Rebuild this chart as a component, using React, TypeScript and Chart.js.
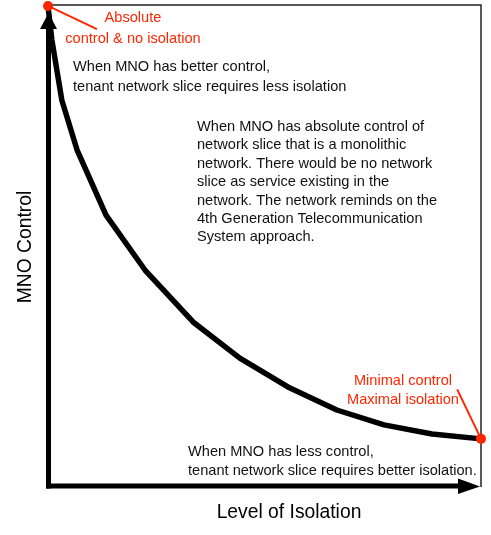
import React, { useEffect, useRef } from "react";
import { Chart, registerables } from "chart.js";
Chart.register(...registerables);

// Curve: MNO control (y) vs level of isolation (x), arbitrary 0-100 units
const isolationX = [0, 0.9, 3.2, 6.7, 13.4, 22.4, 33.5, 44.3, 55.4, 66.7, 77.6, 88.7, 100];
const controlY = [99.8, 92.7, 80.2, 69.9, 56.3, 44.9, 34.1, 26.6, 20.6, 15.8, 12.7, 10.8, 9.8];

// Highlighted extreme points
const extremeX = [0, 100];
const extremeY = [99.8, 9.8];

// Leader lines for the red labels (from point to label)
const leader1X = [0, 11.3];
const leader1Y = [99.8, 95.0];
const leader2X = [100, 94.5];
const leader2Y = [9.8, 20.1];

const xTitle = "Level of Isolation";
const yTitle = "MNO Control";
const redLabel1 = ["Absolute", "control & no isolation"];
const redLabel2 = ["Minimal control", "Maximal isolation"];
const noteTop = ["When MNO has better control,", "tenant network slice requires less isolation"];
const noteMid = [
  "When MNO has absolute control of",
  "network slice that is a monolithic",
  "network. There would be no network",
  "slice as service existing in the",
  "network. The network reminds on the",
  "4th Generation Telecommunication",
  "System approach.",
];
const noteBottom = ["When MNO has less control,", "tenant network slice requires better isolation."];

const RED = "rgb(255,38,0)";
const FONT = '"Liberation Sans", Arial, Helvetica, sans-serif';

const decor = {
  id: "decor",
  beforeDatasetsDraw(chart: any) {
    const { ctx, chartArea } = chart;
    const { left, right, top, bottom } = chartArea;
    ctx.save();
    // thin frame (top & right)
    ctx.strokeStyle = "#222";
    ctx.lineWidth = 1.5;
    ctx.beginPath();
    ctx.moveTo(left, top);
    ctx.lineTo(right, top);
    ctx.lineTo(right, bottom + 1);
    ctx.stroke();
    // thick axes
    ctx.strokeStyle = "#000";
    ctx.fillStyle = "#000";
    ctx.lineWidth = 5;
    ctx.lineCap = "butt";
    const ax = left + 0.5;
    const ay = bottom;
    ctx.beginPath();
    ctx.moveTo(ax, ay + 2.5);
    ctx.lineTo(ax, top + 24);
    ctx.stroke();
    ctx.beginPath();
    ctx.moveTo(ax - 2.5, ay);
    ctx.lineTo(right - 20, ay);
    ctx.stroke();
    // arrow heads
    ctx.beginPath();
    ctx.moveTo(ax, top + 8);
    ctx.lineTo(ax + 8.5, top + 24);
    ctx.lineTo(ax - 8.5, top + 24);
    ctx.closePath();
    ctx.fill();
    ctx.beginPath();
    ctx.moveTo(right - 1, ay + 0.5);
    ctx.lineTo(right - 23, ay - 7.5);
    ctx.lineTo(right - 23, ay + 8);
    ctx.closePath();
    ctx.fill();
    ctx.restore();
  },
  afterDraw(chart: any) {
    const { ctx, chartArea } = chart;
    const { bottom } = chartArea;
    ctx.save();
    ctx.textBaseline = "middle";
    // red labels
    ctx.fillStyle = RED;
    ctx.font = "14.6px " + FONT;
    ctx.textAlign = "center";
    ctx.fillText(redLabel1[0], 133, 18);
    ctx.fillText(redLabel1[1], 133, 39);
    ctx.fillText(redLabel2[0], 403, 381);
    ctx.fillText(redLabel2[1], 403, 400);
    // black notes
    ctx.fillStyle = "#111";
    ctx.textAlign = "left";
    noteTop.forEach((t, i) => ctx.fillText(t, 73, 67 + i * 20));
    noteMid.forEach((t, i) => ctx.fillText(t, 197, 127 + i * 18.4));
    noteBottom.forEach((t, i) => ctx.fillText(t, 188, 452 + i * 19));
    // axis titles
    ctx.fillStyle = "#000";
    ctx.font = "19.3px " + FONT;
    ctx.textAlign = "center";
    ctx.fillText(xTitle, 289, bottom + 27);
    ctx.translate(26, 247);
    ctx.rotate(-Math.PI / 2);
    ctx.fillText(yTitle, 0, 0);
    ctx.restore();
  },
};

export default function App() {
  const ref = useRef<HTMLCanvasElement | null>(null);
  useEffect(() => {
    if (!ref.current) return;
    const pts = (xs: number[], ys: number[]) => xs.map((x, i) => ({ x, y: ys[i] }));
    const chart = new Chart(ref.current, {
      type: "scatter",
      data: {
        datasets: [
          {
            data: pts(leader1X, leader1Y),
            showLine: true,
            borderColor: RED,
            borderWidth: 2,
            pointRadius: 0,
            order: 2,
          },
          {
            data: pts(leader2X, leader2Y),
            showLine: true,
            borderColor: RED,
            borderWidth: 2,
            pointRadius: 0,
            order: 2,
          },
          {
            data: pts(isolationX, controlY),
            showLine: true,
            borderColor: "#000",
            borderWidth: 5.5,
            borderJoinStyle: "round",
            borderCapStyle: "round",
            tension: 0,
            pointRadius: 0,
            order: 1,
          },
          {
            data: pts(extremeX, extremeY),
            showLine: false,
            pointRadius: 5,
            pointBackgroundColor: RED,
            pointBorderColor: RED,
            pointBorderWidth: 0,
            order: 0,
          },
        ],
      } as any,
      options: {
        animation: false,
        responsive: false,
        devicePixelRatio: 1,
        clip: false,
        layout: { padding: { left: 48, right: 10, top: 5, bottom: 49 } },
        plugins: { legend: { display: false }, tooltip: { enabled: false } },
        events: [],
        scales: {
          x: { type: "linear", min: 0, max: 100, display: false },
          y: { type: "linear", min: 0, max: 100, display: false },
        },
      } as any,
      plugins: [decor],
    });
    return () => chart.destroy();
  }, []);
  return (
    <div style={{ position: "absolute", left: 0, top: 0, width: 491, height: 535, background: "#fff" }}>
      <canvas ref={ref} width={491} height={535} style={{ display: "block" }} />
    </div>
  );
}
